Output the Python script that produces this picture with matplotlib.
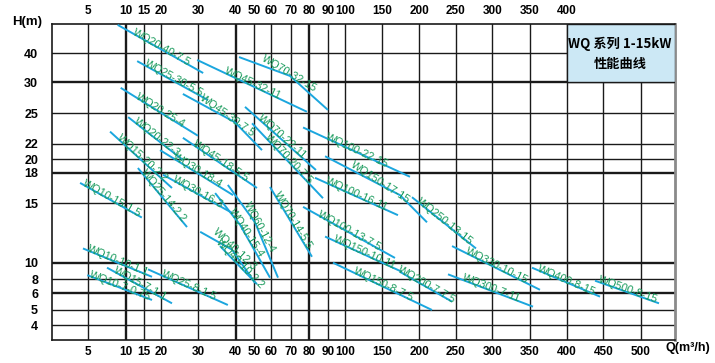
import numpy as np
import matplotlib.pyplot as plt
from matplotlib.patches import Rectangle

# grid / axis values
q_ticks = [5, 10, 15, 20, 30, 40, 50, 60, 70, 80, 90, 100, 150, 200, 250, 300, 350, 400, 450, 500]
q_top = [5, 10, 15, 20, 30, 40, 50, 60, 70, 80, 90, 100, 150, 200, 250, 300, 350, 400]
h_ticks = [4, 5, 6, 8, 10, 15, 18, 20, 22, 25, 30, 40]

# pump curves (Q in m3/h, H in m)
names = ["WQ20-40-7.5", "WQ25-30-5.5", "WQ45-32-11", "WQ70-32-15", "WQ20-25-4",
         "WQ45-30-7.5", "WQ70-22-11", "WQ70-20-7.5", "WQ100-22-15", "WQ150-17-15",
         "WQ100-16-11", "WQ250-13-15", "WQ100-13-7.5", "WQ150-10-11", "WQ150-8-7.5",
         "WQ200-7-7.5", "WQ330-10-15", "WQ300-7-11", "WQ400-8-15", "WQ500-8-15",
         "WQ20-22-3", "WQ15-20-2.2", "WQ30-18-4", "WQ45-18-5.5", "WQ30-16-3",
         "WQ25-14-2.2", "WQ10-15-1.5", "WQ60-12-4", "WQ40-15-4", "WQ70-14-5.5",
         "WQ40-12-3", "WQ40-10-2.2", "WQ10-10-1.1", "WQ25-8-1.5", "WQ15-7-1.1",
         "WQ10-7-0.75"]
q_pts = [[8.9, 31.3], [13.1, 32.6], [29.7, 78.7], [41.8, 69.5, 89.8], [9.3, 29.9],
         [25.9, 39.8, 54.6], [45, 83.5], [48.8, 87.2], [76.6, 187.9], [88.3, 174.5, 210.9],
         [83.0, 171.8], [190.6, 277.7], [76.6, 167.8], [88.3, 177.2], [92.8, 217.7],
         [174.5, 245.0], [245, 363.6], [239.5, 354.1], [352.7, 445.5], [438.7, 524.0],
         [10.6, 25.9], [7.9, 23.0], [19.8, 39.3], [25.9, 51.6], [20.6, 39.0],
         [13.3, 27.0], [3.9, 14.4], [37.9, 50.4, 63.5], [34.5, 42.3, 59.4], [59.4, 81.4],
         [30.5, 39.0, 50.4], [35.8, 51.6], [4.3, 17.4], [16.2, 37.9], [7.5, 23.0],
         [4.9, 17.4]]
h_pts = [[49.7, 33.2], [37.3, 27.1], [37.7, 25.2], [38.7, 32.2, 25.5], [29.1, 22.8],
         [28.1, 24.1, 21.2], [26.0, 18.4], [24.0, 15.5], [23.6, 17.6], [20.4, 15.8, 13.4],
         [17.5, 14.0], [15.6, 11.2], [14.7, 10.4], [12.2, 8.9], [10.0, 5.0],
         [8.9, 5.5], [11.4, 6.5], [8.6, 5.2], [9.4, 5.8], [7.8, 5.4],
         [24.6, 19.9], [23.2, 16.5], [21.2, 15.8], [22.6, 16.5], [17.8, 14.2],
         [18.7, 13.0], [17.0, 13.8], [16.8, 13.4, 8.2], [16.0, 13.2, 8.2], [16.6, 10.5],
         [12.6, 11.1, 7.5], [11.4, 7.3], [11.2, 8.3], [9.2, 5.3], [9.4, 5.4],
         [8.5, 5.6]]

# the printed grid is hand spaced: knot value -> pixel distance from axis origin
q_knots = [0] + q_ticks + [545]
q_pos = [0, 36, 74, 92, 108.7, 146.3, 183.7, 202.3, 219, 239, 257.3, 276.3, 293,
         329.7, 367, 403.7, 440.3, 478, 514.7, 551.3, 588.7, 623]
h_knots = [3, 4, 5, 6, 8, 10, 15, 18, 20, 22, 25, 30, 40, 50]
h_pos = [0, 15, 30, 46.7, 60.7, 77.3, 136.7, 167.3, 180.7, 196, 227, 257.7, 286.7, 316]

LINE = "#1ba6de"
TEXT = "#16995a"
FAM = ["Liberation Sans", "DejaVu Sans"]
CJK = ["Noto Sans CJK SC", "DejaVu Sans"]

fig = plt.figure(figsize=(7.15, 3.63), dpi=100)
ax = fig.add_axes([52 / 715, 23 / 363, 623 / 715, 316 / 363])
ax.set_xscale('function', functions=(lambda v: np.interp(v, q_knots, q_pos),
                                     lambda p: np.interp(p, q_pos, q_knots)))
ax.set_yscale('function', functions=(lambda v: np.interp(v, h_knots, h_pos),
                                     lambda p: np.interp(p, h_pos, h_knots)))
ax.set_xlim(0, 545)
ax.set_ylim(3, 50)

heavy_q = [10, 40, 80]
heavy_h = [6, 10, 18, 30]
for q in q_ticks:
    ax.axvline(q, color="#1a1a1a", lw=1.7 if q in heavy_q else 1.0, zorder=1)
for h in h_ticks:
    ax.axhline(h, color="#1a1a1a", lw=1.7 if h in heavy_h else 1.0, zorder=1)

# title box
ax.add_patch(Rectangle((400, 30), 145, 20, facecolor="#cce8f5", edgecolor="#1a1a1a",
                       lw=1.0, zorder=3))
ax.text(472, 43.3, "WQ 系列 1-15kW", ha="center", va="center", fontsize=9.5,
        fontweight="bold", family=CJK, zorder=5)
ax.text(472, 36.3, "性能曲线", ha="center", va="center", fontsize=9.5,
        fontweight="bold", family=CJK, zorder=5)

# curves and labels along them
inv = ax.transData.inverted()
for name, qs, hs in zip(names, q_pts, h_pts):
    ax.plot(qs, hs, color=LINE, lw=1.4, zorder=4, solid_capstyle="butt")
    pts = ax.transData.transform(np.column_stack([qs, hs]))
    d = pts[-1] - pts[0]
    ang = np.degrees(np.arctan2(d[1], d[0]))
    seg = np.hypot(*np.diff(pts, axis=0).T)
    cum = np.cumsum(seg)
    half = cum[-1] / 2
    i = np.searchsorted(cum, half)
    t = (half - cum[i] + seg[i]) / seg[i]
    mid = pts[i] + t * (pts[i + 1] - pts[i])
    nrm = np.array([-d[1], d[0]]) / np.hypot(*d)
    mid = mid - 3.0 * nrm
    mq, mh = inv.transform(mid)
    ax.text(mq, mh, name, color=TEXT, fontsize=7.8, family=FAM, rotation=ang,
            rotation_mode="anchor", ha="center", va="bottom", zorder=5)

ax.set_xticks(q_ticks)
ax.set_xticklabels([str(q) for q in q_ticks])
ax.set_yticks(h_ticks)
ax.set_yticklabels([str(h) for h in h_ticks])
ax.minorticks_off()
ax.tick_params(axis="x", length=0, pad=4, labelsize=8.5)
ax.tick_params(axis="y", length=0, pad=10, labelsize=9)
for lab in ax.get_xticklabels() + ax.get_yticklabels():
    lab.set_family(FAM)
    lab.set_fontweight("bold")
for q in q_top:
    ax.text(q, 1.022, str(q), transform=ax.get_xaxis_transform(), ha="center",
            va="bottom", fontsize=8.5, fontweight="bold", family=FAM)

for s in ["left", "bottom", "top"]:
    ax.spines[s].set_color("#1a1a1a")
    ax.spines[s].set_linewidth(1.2)
ax.spines["right"].set_color("#8a8a8a")
ax.spines["right"].set_linewidth(2)

fig.text(27 / 715, 1 - 22 / 363, "H(m)", ha="center", va="center", fontsize=9.5,
         fontweight="bold", family=FAM)
fig.text(688 / 715, 1 - 348 / 363, "Q(m³/h)", ha="center", va="center", fontsize=9,
         fontweight="bold", family=FAM)

fig.savefig("out.png", dpi=100)
